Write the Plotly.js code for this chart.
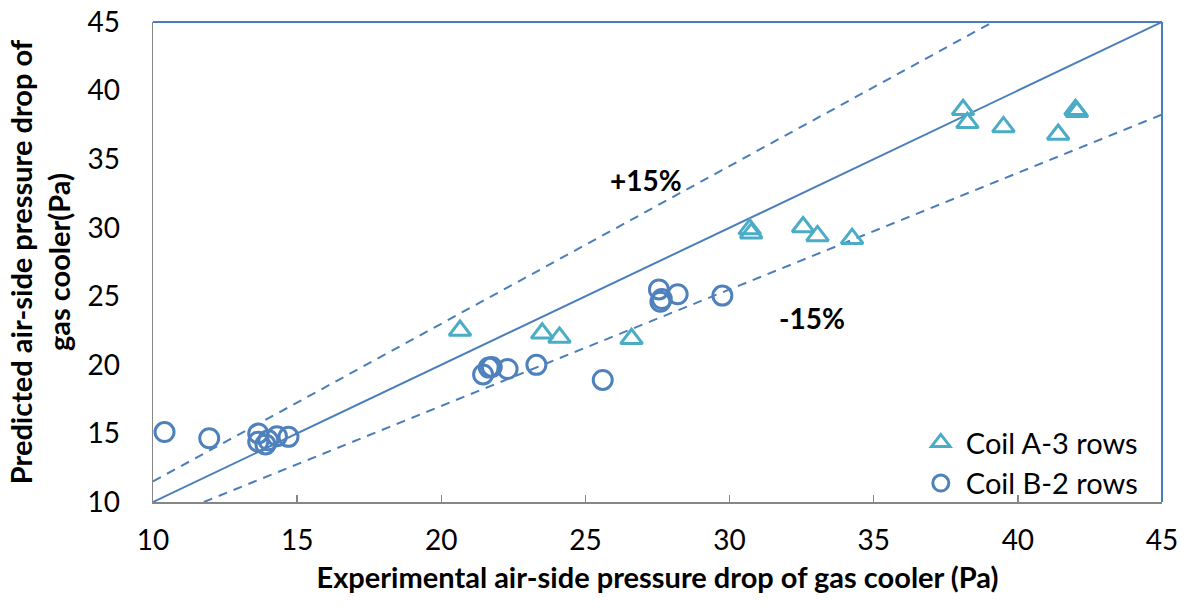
<!DOCTYPE html>
<html>
<head>
<meta charset="utf-8">
<script src="https://cdn.plot.ly/plotly-3.0.1.min.js"></script>
<style>html,body{margin:0;padding:0;background:#fff;}#chart{width:1192px;height:607px;}</style>
</head>
<body>
<div id="chart"></div>
<script>
// Coil A - 3 rows (triangles)
const coilA_x = [20.65, 23.5, 24.1, 26.6, 30.7, 30.75, 32.55, 33.05, 34.25, 38.1, 38.25, 39.5, 41.4, 42.05, 42.0];
const coilA_y = [22.5, 22.3, 22.0, 21.9, 29.9, 29.6, 30.05, 29.4, 29.2, 38.6, 37.65, 37.35, 36.8, 38.45, 38.6];
// Coil B - 2 rows (circles)
const coilB_x = [10.4, 11.95, 13.65, 13.65, 13.9, 14.0, 14.3, 14.7, 21.45, 21.65, 21.75, 22.3, 23.3, 25.6, 27.55, 27.6, 27.65, 28.2, 29.75];
const coilB_y = [15.1, 14.65, 15.0, 14.4, 14.2, 14.5, 14.8, 14.75, 19.3, 19.8, 19.85, 19.7, 20.0, 18.9, 25.5, 24.6, 24.8, 25.15, 25.05];
// reference lines
const lineRange = [10, 45];
const plusFactor = 1.15;
const minusFactor = 0.85;
const legendNames = ["Coil A-3 rows", "Coil B-2 rows"];
const xTitle = "Experimental air-side pressure drop of gas cooler (Pa)";
const yTitle = "Predicted air-side pressure drop of<br>gas cooler(Pa)";

const lineColor = "#4a7ebb";
const font = "Lato, 'Noto Sans', sans-serif";

const traces = [
  {x: lineRange, y: lineRange, mode: "lines", line: {color: lineColor, width: 2}, showlegend: false, hoverinfo: "skip"},
  {x: [lineRange[0], lineRange[1] / plusFactor], y: [lineRange[0] * plusFactor, lineRange[1]], mode: "lines", line: {color: lineColor, width: 2, dash: "9px,7px"}, showlegend: false, hoverinfo: "skip"},
  {x: [lineRange[0] / minusFactor, lineRange[1]], y: [lineRange[0], lineRange[1] * minusFactor], mode: "lines", line: {color: lineColor, width: 2, dash: "9px,7px"}, showlegend: false, hoverinfo: "skip"},
  {x: coilA_x, y: coilA_y, name: legendNames[0], mode: "markers", type: "scatter",
   marker: {symbol: "triangle-up-open", size: 19, color: "#4bacc6", line: {width: 3, color: "#4bacc6"}}},
  {x: coilB_x, y: coilB_y, name: legendNames[1], mode: "markers", type: "scatter",
   marker: {symbol: "circle-open", size: 19, color: "#4f81bd", line: {width: 3, color: "#4f81bd"}}}
];

const layout = {
  width: 1192, height: 607,
  margin: {l: 153, r: 30, t: 22, b: 105},
  paper_bgcolor: "#fff", plot_bgcolor: "#fff",
  font: {family: font, size: 20, color: "#000"},
  showlegend: true,
  legend: {x: 0.756, y: 0.177, xanchor: "left", yanchor: "top", bgcolor: "rgba(0,0,0,0)", font: {size: 29, color: "#000"}, tracegroupgap: 0, itemwidth: 40},
  xaxis: {
    range: [10, 45], dtick: 5, tick0: 10, showgrid: false, zeroline: false,
    showline: true, linecolor: "#868686", linewidth: 1.5,
    ticks: "inside", ticklen: 7, tickcolor: "#868686", tickwidth: 1.5,
    tickfont: {size: 28, color: "#000"}, ticklabelstandoff: 13,
    title: {text: xTitle, font: {size: 29, color: "#000", family: font, weight: "bold"}, standoff: 12}
  },
  yaxis: {
    range: [10, 45], dtick: 5, tick0: 10, showgrid: false, zeroline: false,
    showline: true, linecolor: "#868686", linewidth: 1.5,
    ticks: "", tickfont: {size: 28, color: "#000"}, ticklabelstandoff: 26,
    title: {text: yTitle, font: {size: 29, color: "#000", family: font, weight: "bold"}, standoff: 8}
  },
  shapes: [
    {type: "line", xref: "paper", yref: "paper", x0: 0, x1: 1, y0: 1, y1: 1, line: {color: lineColor, width: 2}},
    {type: "line", xref: "paper", yref: "paper", x0: 1, x1: 1, y0: 0, y1: 1, line: {color: lineColor, width: 2}}
  ],
  annotations: [
    {x: 27.1, y: 33.5, xref: "x", yref: "y", text: "+15%", showarrow: false, font: {size: 28, color: "#000", family: font, weight: "bold"}},
    {x: 32.85, y: 23.4, xref: "x", yref: "y", text: "-15%", showarrow: false, font: {size: 28, color: "#000", family: font, weight: "bold"}}
  ]
};

Plotly.newPlot("chart", traces, layout, {displayModeBar: false, staticPlot: true});
</script>
</body>
</html>
